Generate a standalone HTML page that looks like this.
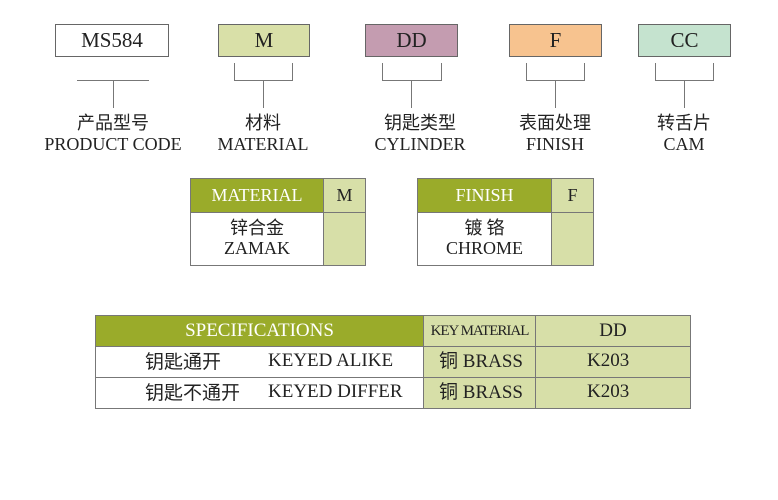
<!DOCTYPE html>
<html><head><meta charset="utf-8"><style>
body{margin:0;width:778px;height:500px;background:#fff;position:relative;overflow:hidden;font-family:"Liberation Serif","Noto Serif CJK SC",serif;color:#222}
.a{position:absolute;box-sizing:border-box}
.box{border:1px solid #666;text-align:center;font-size:21px;line-height:31px;height:33px;top:24px}
.ln{position:absolute;background:#777}
.lab{position:absolute;text-align:center;width:160px;font-size:18px;line-height:21px}
.cn{font-family:"Noto Sans CJK SC",sans-serif;font-size:18px;line-height:1}
.c{position:absolute;box-sizing:border-box;border:1px solid #777;text-align:center}
.g{background:#9aab2a;color:#fff}
.l{background:#d7dfa8}
.t{position:absolute;white-space:nowrap;font-size:19px;line-height:22px}
</style></head><body>
<div class="a box" style="left:55px;width:114px;background:#fff">MS584</div>
<div class="a box" style="left:218px;width:92px;background:#d9e0a8">M</div>
<div class="a box" style="left:365px;width:93px;background:#c49cb0">DD</div>
<div class="a box" style="left:509px;width:93px;background:#f7c38f">F</div>
<div class="a box" style="left:638px;width:93px;background:#c5e3cf">CC</div>

<div class="ln" style="left:77px;top:80px;width:72px;height:1px"></div>
<div class="ln" style="left:113px;top:80px;width:1px;height:28px"></div>

<div class="ln" style="left:234px;top:63px;width:1px;height:18px"></div>
<div class="ln" style="left:292px;top:63px;width:1px;height:18px"></div>
<div class="ln" style="left:234px;top:80px;width:59px;height:1px"></div>
<div class="ln" style="left:263px;top:80px;width:1px;height:28px"></div>

<div class="ln" style="left:382px;top:63px;width:1px;height:18px"></div>
<div class="ln" style="left:441px;top:63px;width:1px;height:18px"></div>
<div class="ln" style="left:382px;top:80px;width:60px;height:1px"></div>
<div class="ln" style="left:411px;top:80px;width:1px;height:28px"></div>

<div class="ln" style="left:526px;top:63px;width:1px;height:18px"></div>
<div class="ln" style="left:584px;top:63px;width:1px;height:18px"></div>
<div class="ln" style="left:526px;top:80px;width:59px;height:1px"></div>
<div class="ln" style="left:555px;top:80px;width:1px;height:28px"></div>

<div class="ln" style="left:655px;top:63px;width:1px;height:18px"></div>
<div class="ln" style="left:713px;top:63px;width:1px;height:18px"></div>
<div class="ln" style="left:655px;top:80px;width:59px;height:1px"></div>
<div class="ln" style="left:684px;top:80px;width:1px;height:28px"></div>

<div class="lab" style="left:33px;top:113px"><span class="cn">产品型号</span><br>PRODUCT CODE</div>
<div class="lab" style="left:183px;top:113px"><span class="cn">材料</span><br>MATERIAL</div>
<div class="lab" style="left:340px;top:113px"><span class="cn">钥匙类型</span><br>CYLINDER</div>
<div class="lab" style="left:475px;top:113px"><span class="cn">表面处理</span><br>FINISH</div>
<div class="lab" style="left:604px;top:113px"><span class="cn">转舌片</span><br>CAM</div>

<div class="c g" style="left:190px;top:178px;width:134px;height:35px;font-size:18px;line-height:33px">MATERIAL</div>
<div class="c l" style="left:323px;top:178px;width:43px;height:35px;font-size:18px;line-height:33px">M</div>
<div class="c" style="left:190px;top:212px;width:134px;height:54px;font-size:18px;line-height:20px;padding-top:5px"><span class="cn">锌合金</span><br>ZAMAK</div>
<div class="c l" style="left:323px;top:212px;width:43px;height:54px"></div>

<div class="c g" style="left:417px;top:178px;width:135px;height:35px;font-size:18px;line-height:33px">FINISH</div>
<div class="c l" style="left:551px;top:178px;width:43px;height:35px;font-size:18px;line-height:33px">F</div>
<div class="c" style="left:417px;top:212px;width:135px;height:54px;font-size:18px;line-height:20px;padding-top:5px"><span class="cn">镀 铬</span><br>CHROME</div>
<div class="c l" style="left:551px;top:212px;width:43px;height:54px"></div>

<div class="c g" style="left:95px;top:315px;width:329px;height:32px;font-size:19px;line-height:30px">SPECIFICATIONS</div>
<div class="c l" style="left:423px;top:315px;width:113px;height:32px;font-size:15px;line-height:30px;letter-spacing:-1px">KEY MATERIAL</div>
<div class="c l" style="left:535px;top:315px;width:156px;height:32px;font-size:19px;line-height:30px">DD</div>
<div class="c" style="left:95px;top:346px;width:329px;height:32px"></div>
<div class="c l" style="left:423px;top:346px;width:113px;height:32px"></div>
<div class="c l" style="left:535px;top:346px;width:156px;height:32px"></div>
<div class="c" style="left:95px;top:377px;width:329px;height:32px"></div>
<div class="c l" style="left:423px;top:377px;width:113px;height:32px"></div>
<div class="c l" style="left:535px;top:377px;width:156px;height:32px"></div>

<div class="t cn" style="left:145px;top:350px;font-size:19px">钥匙通开</div>
<div class="t" style="left:268px;top:350px">KEYED ALIKE</div>
<div class="t" style="left:439px;top:350px"><span class="cn" style="font-size:19px">铜</span> BRASS</div>
<div class="t" style="left:587px;top:350px">K203</div>
<div class="t cn" style="left:145px;top:381px;font-size:19px">钥匙不通开</div>
<div class="t" style="left:268px;top:381px">KEYED DIFFER</div>
<div class="t" style="left:439px;top:381px"><span class="cn" style="font-size:19px">铜</span> BRASS</div>
<div class="t" style="left:587px;top:381px">K203</div>
</body></html>
